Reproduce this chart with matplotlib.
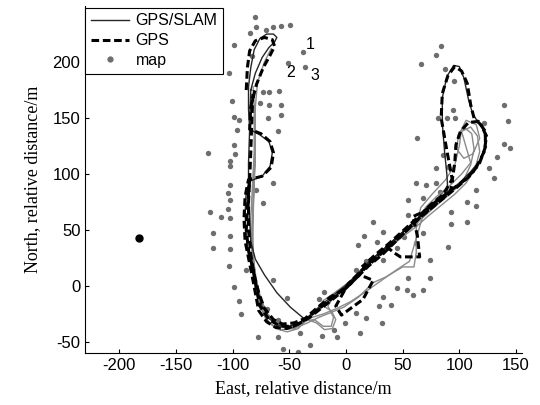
import numpy as np
import matplotlib
matplotlib.use("Agg")
import matplotlib.pyplot as plt
from matplotlib.lines import Line2D

plt.rcParams["axes.unicode_minus"] = False

# GPS/SLAM trajectory, first lap (dark solid)
slam_lap1 = [
    (-84, 175), (-80, 190), (-74, 204), (-68, 213), (-63, 218), (-61, 222), (-64, 225),
    (-70, 225), (-76, 221), (-81, 211), (-84, 195), (-86, 178), (-86, 158), (-85, 140),
    (-76, 135), (-68, 129), (-65, 119), (-67, 107), (-74, 98), (-84, 94), (-88, 85),
    (-89, 65), (-88, 45), (-86, 28), (-82, 12), (-78, -4), (-74, -18), (-68, -29),
    (-60, -35), (-50, -36), (-42, -33), (-36, -30), (-27, -23), (-17, -15), (-8, -8),
    (1, 1), (11, 12), (23, 24), (35, 34), (47, 45), (57, 54), (67, 63), (79, 74), (90, 83),
    (89, 100), (87, 120), (85, 145), (85, 168), (89, 187), (95, 197), (100, 196),
    (104, 186), (108, 167), (112, 153), (117, 146), (122, 138), (123, 125), (118, 112),
    (110, 102), (100, 92), (90, 84), (78, 74), (66, 63), (54, 52), (42, 41), (30, 30),
    (18, 19), (8, 8), (-2, -1), (-12, -9), (-22, -17), (-36, -30), (-49, -19),
    (-61, -6), (-72, 10), (-80, 24), (-84, 40), (-85, 60), (-86, 85), (-86, 110),
    (-85, 140), (-84, 175),
]

# GPS/SLAM trajectory, later laps (grey solid)
slam_lap2 = [
    (-82, 178), (-81, 160), (-81, 140), (-81, 120), (-82, 100), (-83, 80), (-84, 60),
    (-84, 40), (-82, 20), (-79, 2), (-76, -15), (-71, -29), (-62, -38), (-52, -41),
    (-42, -38), (-36, -31), (-28, -30), (-20, -36), (-13, -36), (-11, -28), (-16, -18),
    (-10, -8), (0, 0), (10, 10), (22, 21), (34, 31), (46, 42), (58, 52), (70, 63),
    (82, 74), (94, 84), (104, 95), (110, 108), (113, 122), (111, 136), (104, 142),
    (99, 135), (98, 122), (104, 114), (112, 118), (118, 132), (115, 144), (106, 148),
    (102, 140), (100, 125), (96, 108), (88, 95), (76, 82), (66, 70), (62, 52), (62, 30),
    (60, 17), (50, 17), (35, 8), (24, 3), (11, -10), (-2, -19), (-14, -24), (-24, -28),
    (-34, -33), (-46, -38), (-58, -39), (-68, -33), (-75, -20), (-80, -4), (-82, 15),
    (-83, 40), (-82, 70), (-81, 100), (-80, 130), (-80, 160), (-78, 182), (-72, 200),
    (-66, 212),
]
slam_lap3 = [
    (-80, 150), (-80, 120), (-81, 95), (-82, 70), (-83, 45), (-82, 25), (-79, 5),
    (-75, -12), (-69, -26), (-60, -35), (-50, -38), (-40, -35), (-34, -30), (-26, -33),
    (-19, -39), (-12, -38), (-9, -30), (-13, -22), (-20, -18), (-28, -24), (-34, -29),
    (-27, -24), (-20, -13), (-10, -6), (2, 3), (14, 14), (26, 25), (38, 34), (50, 44),
    (62, 53), (72, 62), (84, 72), (96, 82), (106, 92), (114, 105), (118, 120), (116, 134),
    (110, 142), (102, 138), (106, 124), (110, 110), (102, 100), (92, 90), (80, 80),
    (70, 70), (56, 22), (44, 14), (30, 4), (16, -6), (4, -14), (-8, -20), (-20, -25),
    (-30, -28), (-40, -34), (-52, -36), (-62, -33), (-70, -24), (-76, -10), (-80, 8),
    (-82, 30), (-82, 60), (-81, 90), (-80, 120), (-80, 150),
]

# GPS trajectory (thick dashed)
gps_lap1 = [
    (-88, 175), (-87, 195), (-85, 210), (-80, 219), (-72, 222), (-65, 220), (-63, 214),
    (-67, 206), (-73, 195), (-79, 180), (-84, 160), (-85, 140), (-75, 136), (-67, 129),
    (-64, 119), (-66, 106), (-74, 98), (-86, 95), (-89, 80), (-90, 60), (-89, 40),
    (-86, 25), (-83, 10), (-80, -6), (-77, -22), (-70, -32), (-62, -37), (-52, -38),
    (-42, -34), (-32, -28), (-22, -20), (-12, -12), (-2, -4), (8, 6), (20, 18), (32, 28),
    (44, 40), (56, 52), (66, 62), (78, 72), (92, 84), (94, 94), (89, 121), (84, 150),
    (85, 172), (90, 188), (96, 196), (102, 192), (107, 181), (110, 162), (113, 150),
    (119, 144), (124, 134), (122, 120), (114, 104), (104, 94), (92, 85), (80, 76),
    (68, 66), (59, 62), (63, 45), (65, 26), (56, 26), (48, 26), (42, 30), (36, 35),
    (24, 24), (12, 12), (2, 2), (-9, -18), (-4, -26), (15, -12), (24, 5), (12, 10),
    (0, -2), (-14, -10), (-26, -20), (-36, -29), (-46, -33), (-56, -34), (-64, -30),
    (-72, -20), (-77, -6), (-81, 10), (-84, 28), (-86, 50), (-86, 75), (-85, 95),
    (-84, 120), (-83, 150), (-82, 175),
]
gps_lap2 = [
    (-85, 95), (-87, 70), (-88, 50), (-86, 32), (-82, 15), (-79, -2), (-76, -18),
    (-68, -30), (-58, -36), (-46, -36), (-36, -30), (-26, -22), (-16, -14), (-6, -6),
    (4, 3), (16, 15), (28, 26), (40, 37), (52, 48), (64, 60), (76, 70), (88, 80),
    (100, 90), (110, 99), (118, 110), (123, 124), (123, 138), (117, 147), (108, 146),
    (101, 138), (97, 126), (96, 110), (94, 96), (86, 82), (74, 72), (62, 60), (50, 49),
    (38, 38), (26, 28), (14, 17),
]
gps_start = [(-183, 43)]

# map landmarks (grey dots)
map_x = [-80, -79, -71, -64, -57, -49, -85, -99, -83, -51, -38, -36, -103, -73, -68,
         -59, -101, -76, -68, -57, -99, -94, -69, -57, -96, -60, -99, -98, -122, -102,
         -102, -64, -102, -104, -102, -73, -79, -110, -102, -120, -104, -117, -102,
         -117, -102, -103, -88, -99, -94, -93, -70, -60, -78, -60, -56, -42, -41, -32,
         -21, -8, -11, 12, -1, 9, 18, 32, 29, 40, 45, 55, 33, 24, 16, 11, 27, 33, 45,
         51, 55, 18, 9, -24, -19, -52, -64, 62, 71, 79, 83, 55, 68, 93, 90, 74, 74, 68,
         59, 54, 79, 84, 66, 87, 95, 139, 143, 122, 81, 89, 94, 96, 63, 139, 145, 133,
         86, 79, 90, 126, 131, 115, 107, 115, 93, 107, 33, 68, 62]
map_y = [240, 231, 229, 231, 232, 233, 226, 215, 205, 199, 209, 196, 190, 173, 173,
         174, 165, 163, 162, 162, 151, 148, 150, 153, 139, 138, 126, 118, 119, 112,
         107, 92, 90, 83, 77, 74, 86, 62, 61, 66, 69, 47, 45, 34, 33, 18, 14, -1, -13,
         -25, -21, -30, -46, -46, -56, -59, -42, -53, -45, -46, -39, -42, -33, -24,
         -29, -33, -18, -17, -2, 7, -10, 57, 45, 37, 39, 23, 34, 44, 63, 22, 14, -12,
         -5, -11, 5, 92, 90, 92, 84, 77, 79, 55, 35, 23, 7, -4, -8, -4, 206, 214, 198,
         194, 183, 162, 147, 146, 150, 150, 157, 150, 132, 127, 123, 115, 117, 105,
         106, 105, 96, 86, 75, 71, 66, 57, 48, 47, 38]

lap_labels = ["1", "2", "3"]
lap_label_x = [-32, -49, -27]
lap_label_y = [216, 191, 188]

sans = ["Liberation Sans", "DejaVu Sans"]
serif = ["Liberation Serif", "DejaVu Serif"]

fig = plt.figure(figsize=(5.4, 4.05), dpi=100)
ax = fig.add_axes([0.158, 0.128, 0.808, 0.857])


def xy(pts):
    a = np.array(pts, dtype=float)
    return a[:, 0], a[:, 1]


ax.scatter(map_x, map_y, s=15, color="#6e6e6e", zorder=1, linewidths=0)
for lap in (slam_lap2, slam_lap3):
    x, y = xy(lap)
    ax.plot(x, y, color="#8a8a8a", lw=1.0, zorder=2)
x, y = xy(slam_lap1)
ax.plot(x, y, color="#262626", lw=1.0, zorder=3)
for lap in (gps_lap1, gps_lap2):
    x, y = xy(lap)
    ax.plot(x, y, color="black", lw=2.2, ls=(0, (2.5, 1.2)), zorder=4)
x, y = xy(gps_start)
ax.plot(x, y, "o", color="black", ms=5, zorder=5)

for t, tx, ty in zip(lap_labels, lap_label_x, lap_label_y):
    ax.text(tx, ty, t, fontsize=11.5, family=sans, ha="center", va="center")

ax.set_xlim(-230, 155)
ax.set_ylim(-60, 250)
ax.set_xticks(np.arange(-200, 151, 50))
ax.set_yticks(np.arange(-50, 201, 50))
ax.tick_params(direction="in", length=3, labelsize=12)
for lab in ax.get_xticklabels() + ax.get_yticklabels():
    lab.set_family(sans)
ax.spines["top"].set_visible(False)
ax.spines["right"].set_visible(False)

ax.set_xlabel("East, relative distance/m", fontsize=13, family=serif, labelpad=5)
ax.set_ylabel("North, relative distance/m", fontsize=13, family=serif, labelpad=8)

handles = [
    Line2D([], [], color="#262626", lw=1.0),
    Line2D([], [], color="black", lw=2.2, ls=(0, (2.5, 1.2))),
    Line2D([], [], color="#6e6e6e", ls="none", marker="o", ms=3.5),
]
leg = ax.legend(handles, ["GPS/SLAM", "GPS", "map"], loc="upper left",
                bbox_to_anchor=(0, 0.995), borderaxespad=0, fancybox=False,
                framealpha=1, edgecolor="black", handlelength=2.4,
                handletextpad=0.4, labelspacing=0.3, borderpad=0.35,
                prop={"family": sans, "size": 11.5})
leg.get_frame().set_linewidth(0.8)

fig.savefig("out.png", dpi=100, facecolor="white")
